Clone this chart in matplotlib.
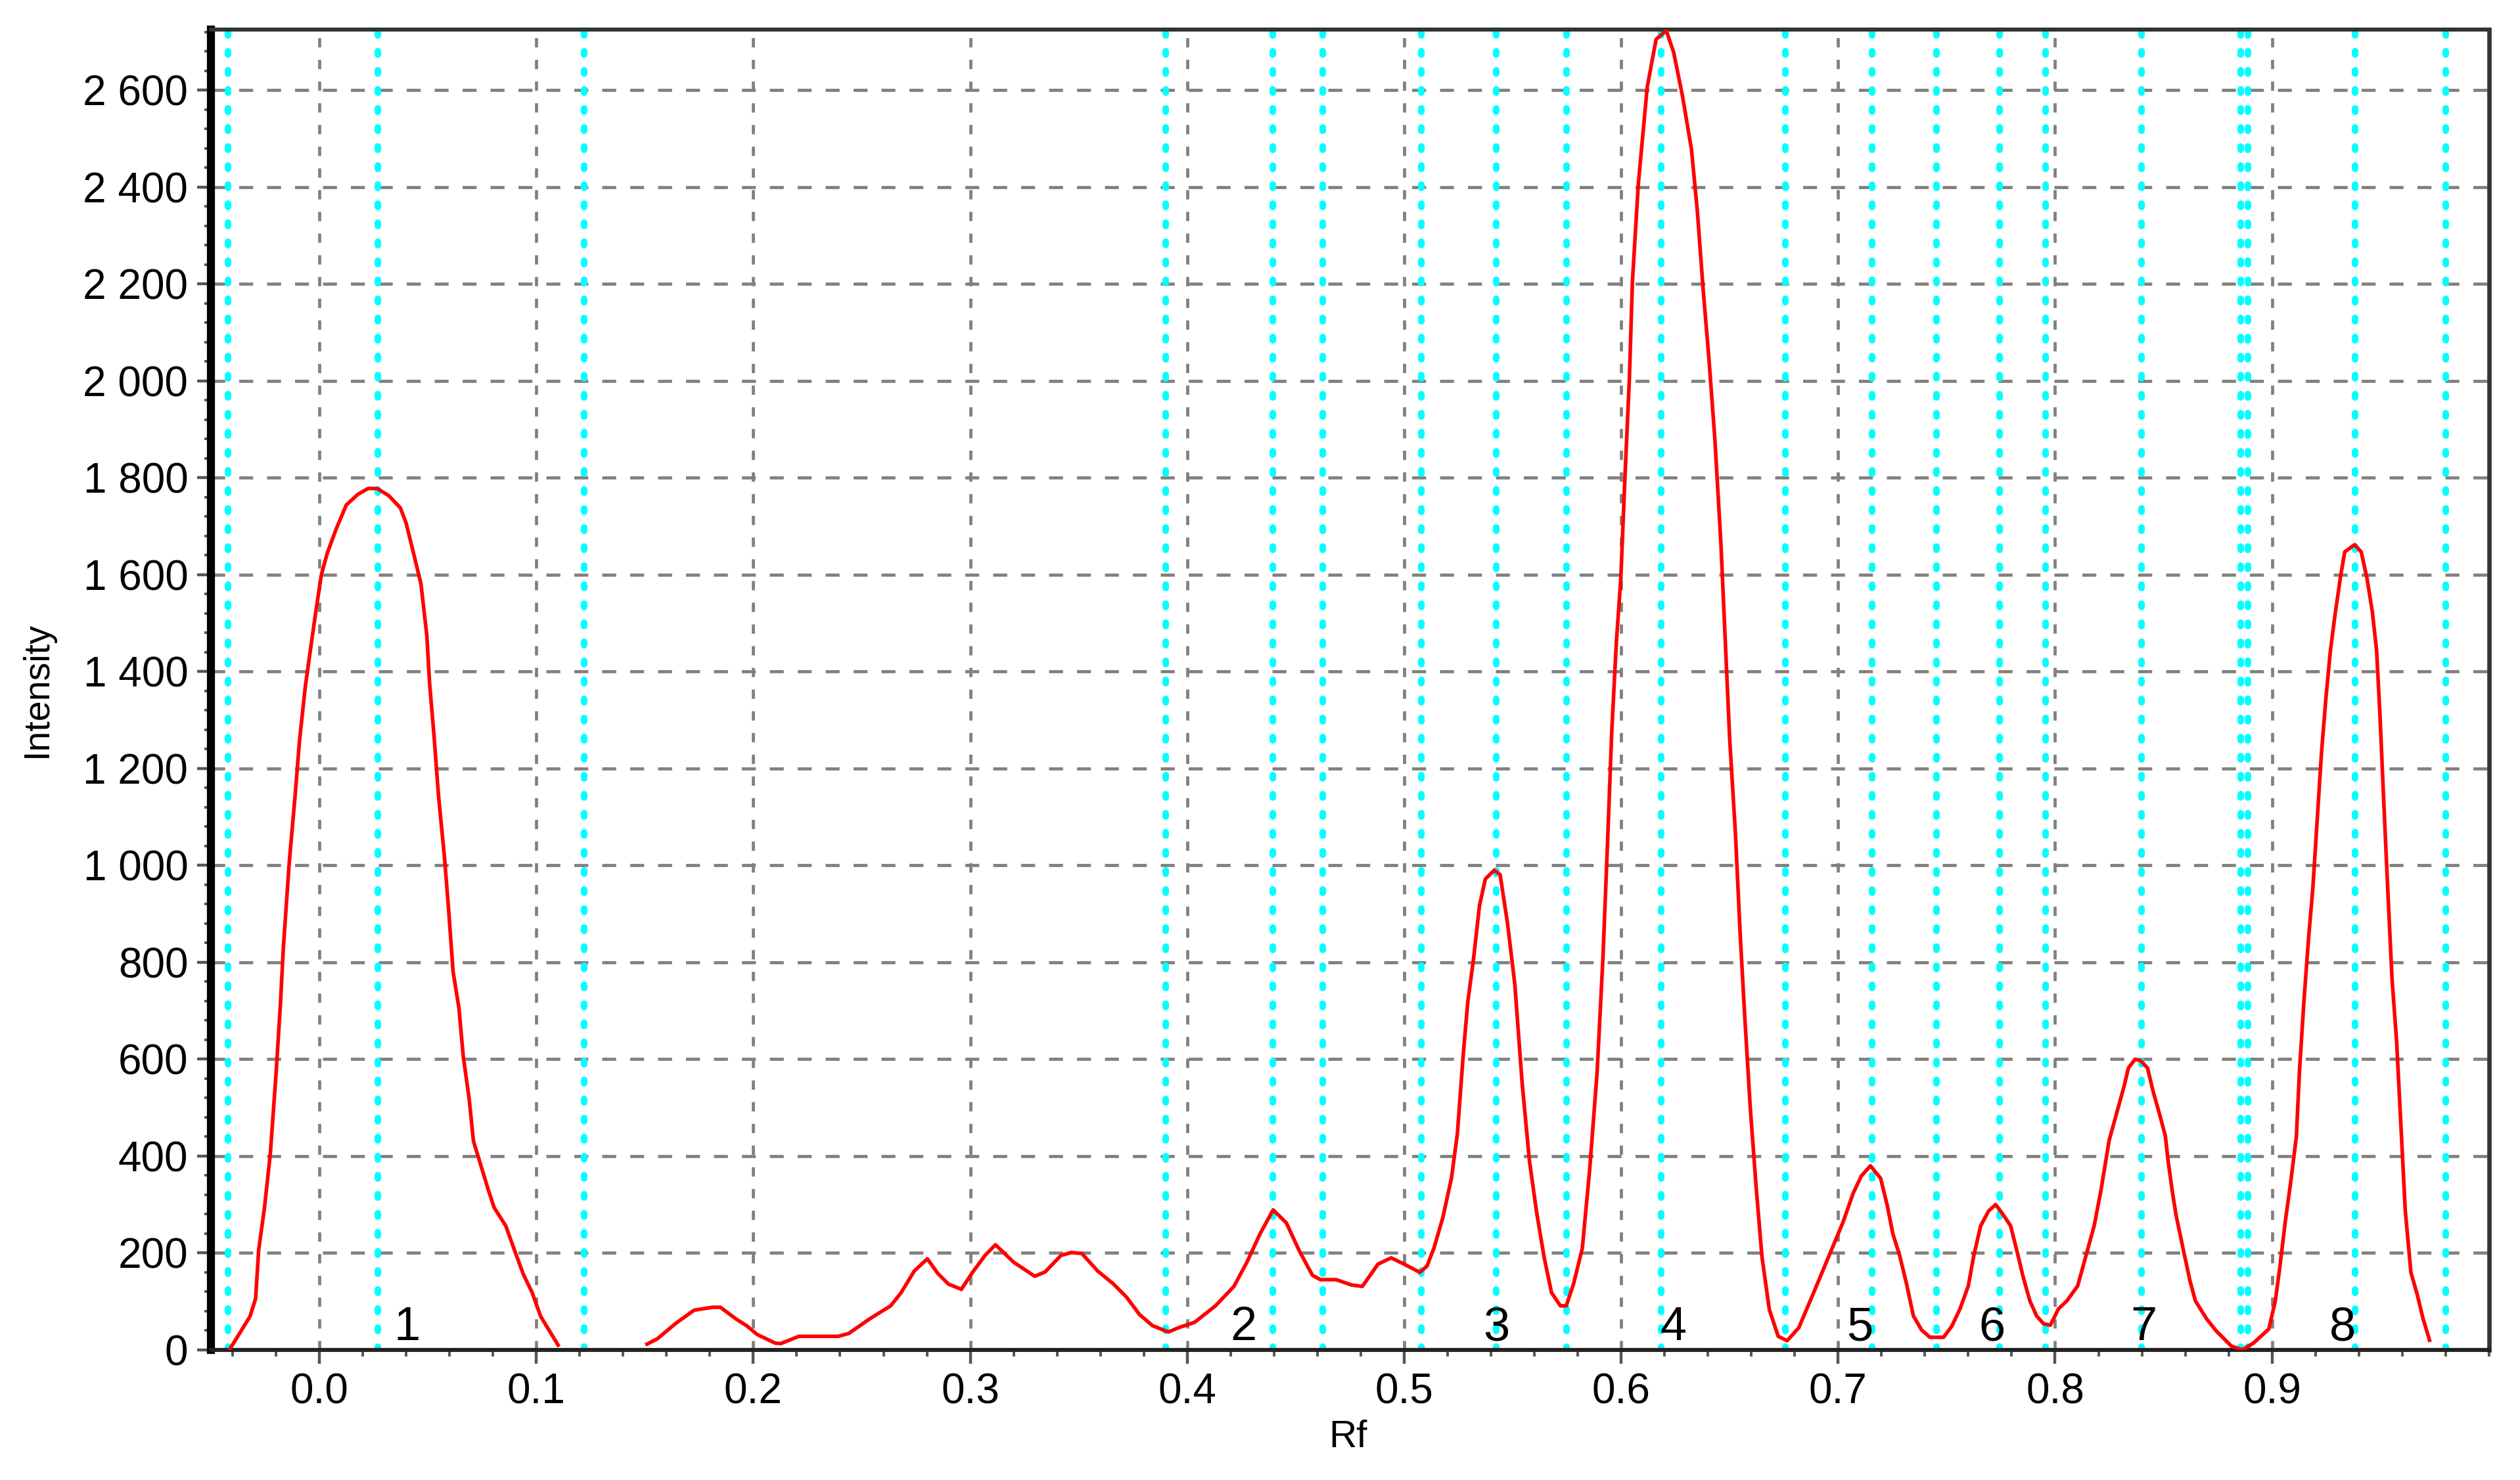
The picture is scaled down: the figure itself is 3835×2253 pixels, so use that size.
import numpy as np
import matplotlib
matplotlib.use('Agg')
import matplotlib.pyplot as plt
from matplotlib.ticker import MultipleLocator, FixedLocator

# densitogram trace (nan = part where no trace is drawn)
rf = [-0.0415, -0.032, -0.0294, -0.028, -0.0253, -0.0226, -0.020, -0.0179, -0.0166, -0.0139,
      -0.0112, -0.0092, -0.0065, -0.0038, -0.0018, 0.0009, 0.0036, 0.0077, 0.0124, 0.0178,
      0.0225, 0.0266, 0.032, 0.0373, 0.040, 0.0434, 0.0468, 0.0495, 0.0508, 0.0528,
      0.0549, 0.0576, 0.0596, 0.0616, 0.0643, 0.0663, 0.069, 0.071, 0.0744, 0.0778,
      0.0805, 0.0859, 0.0899, 0.094, 0.098, 0.102, 0.110, 0.130,
      0.151, 0.1558, 0.1643, 0.1727, 0.1812, 0.1848, 0.192, 0.1969, 0.2017, 0.2101,
      0.2126, 0.221, 0.2391, 0.244, 0.2536, 0.2633, 0.2681, 0.2742, 0.2802, 0.285,
      0.2899, 0.2959, 0.3007, 0.3068, 0.3116, 0.320, 0.3297, 0.3345, 0.3418, 0.3466,
      0.3514, 0.3587, 0.366, 0.372, 0.378, 0.384, 0.3913, 0.3961, 0.4034, 0.413,
      0.4215, 0.4275, 0.4336, 0.4396, 0.4457, 0.4517, 0.4577, 0.4614, 0.4686, 0.4758,
      0.4807, 0.4879, 0.494, 0.500, 0.5072, 0.5105, 0.5137, 0.5178, 0.5218, 0.5245,
      0.5272, 0.5293, 0.532, 0.5347, 0.5374, 0.5415, 0.5442, 0.5476, 0.551, 0.5543,
      0.5577, 0.5611, 0.5645, 0.5679, 0.572, 0.5747, 0.5781, 0.5821, 0.5855, 0.5889,
      0.5916, 0.5937, 0.5957, 0.5978, 0.5998, 0.6018, 0.6038, 0.6052, 0.6079, 0.612,
      0.6161, 0.6208, 0.6242, 0.6283, 0.6324, 0.6351, 0.6378, 0.6405, 0.6432, 0.646,
      0.648, 0.650, 0.6527, 0.6548, 0.6568, 0.6595, 0.6622, 0.6649, 0.6683, 0.6724,
      0.6765, 0.6819, 0.6887, 0.6955, 0.7023, 0.7069, 0.7107, 0.7149, 0.7196, 0.7227,
      0.7252, 0.7284, 0.7315, 0.7347, 0.7385, 0.7423, 0.7486, 0.7524, 0.7562, 0.760,
      0.7625, 0.7657, 0.7694, 0.7726, 0.7764, 0.7795, 0.7827, 0.7852, 0.7884, 0.7915,
      0.7947, 0.7978, 0.8016, 0.8054, 0.8104, 0.8142, 0.818, 0.8211, 0.823, 0.8249,
      0.8268, 0.8293, 0.8319, 0.8338, 0.8369, 0.8394, 0.8426, 0.8451, 0.8483, 0.8508,
      0.8521, 0.854, 0.8558, 0.859, 0.8622, 0.8647, 0.8697, 0.8741, 0.8812, 0.8863,
      0.8914, 0.8985, 0.9015, 0.9036, 0.9061, 0.9086, 0.9112, 0.9127, 0.9147, 0.9168,
      0.9188, 0.9208, 0.9228, 0.9249, 0.9269, 0.9289, 0.9315, 0.9335, 0.9381, 0.9411,
      0.9437, 0.9462, 0.9482, 0.9497, 0.9513, 0.9533, 0.9553, 0.9574, 0.9594, 0.9614,
      0.964, 0.967, 0.9695, 0.9726]
intensity = [0, 69, 106, 206, 294, 406, 569, 719, 831, 1006,
             1144, 1256, 1369, 1456, 1519, 1600, 1644, 1694, 1744, 1766,
             1778, 1778, 1763, 1738, 1706, 1644, 1581, 1475, 1375, 1269,
             1144, 1019, 906, 781, 706, 606, 519, 431, 381, 331,
             294, 256, 206, 156, 119, 69, 10, np.nan,
             12, 23, 55, 82, 88, 88, 64, 50, 32, 14,
             13, 28, 28, 34, 64, 91, 118, 163, 188, 158,
             136, 125, 158, 195, 217, 181, 152, 161, 195, 201,
             199, 163, 136, 109, 73, 50, 37, 46, 57, 91,
             131, 181, 240, 289, 262, 204, 154, 145, 145, 134,
             131, 177, 190, 177, 160, 173, 210, 273, 355, 446,
             609, 718, 809, 917, 972, 990, 981, 881, 754, 554,
             391, 282, 191, 118, 91, 91, 137, 210, 373, 572,
             809, 1045, 1280, 1462, 1589, 1807, 2006, 2206, 2406, 2606,
             2705, 2723, 2678, 2587, 2478, 2351, 2188, 2043, 1879, 1662,
             1462, 1262, 1063, 863, 700, 500, 337, 192, 83, 28,
             19, 46, 118, 191, 264, 323, 359, 380, 354, 297,
             240, 194, 137, 70, 41, 26, 26, 49, 85, 132,
             194, 256, 287, 300, 277, 256, 199, 152, 101, 70,
             54, 51, 85, 101, 132, 194, 256, 328, 380, 432,
             463, 504, 546, 582, 600, 597, 582, 535, 484, 442,
             390, 328, 277, 209, 142, 101, 65, 40, 8, 0,
             14, 43, 101, 171, 265, 346, 440, 580, 720, 848,
             953, 1093, 1233, 1349, 1443, 1513, 1594, 1647, 1662, 1647,
             1594, 1524, 1443, 1314, 1151, 953, 766, 638, 463, 288,
             160, 113, 66, 20]

# cyan dotted markers (track / peak boundaries)
marker_rf = [-0.042, 0.027, 0.122, 0.390, 0.4395, 0.4625, 0.508, 0.5425, 0.5747, 0.6185,
             0.6757, 0.7156, 0.7453, 0.7745, 0.7955, 0.8397, 0.8855, 0.8888, 0.9383, 0.9802]

# peak numbers
peak_names = ['1', '2', '3', '4', '5', '6', '7', '8']
peak_label_rf = [0.0405, 0.4260, 0.5425, 0.6240, 0.7100, 0.7710, 0.8410, 0.9325]

x_ticks = [0.0, 0.1, 0.2, 0.3, 0.4, 0.5, 0.6, 0.7, 0.8, 0.9]
y_ticks = list(range(0, 2601, 200))

plt.rcParams['font.family'] = ['Liberation Sans', 'DejaVu Sans']

fig = plt.figure(figsize=(19.175, 11.265), dpi=200)
ax = fig.add_axes([0.0837, 0.0879, 0.9040, 0.8921])

ax.set_xlim(-0.05, 1.0)
ax.set_ylim(0, 2725)

# grid
ax.xaxis.grid(True, which='major', color='#808080', linewidth=1.7, linestyle=(0, (3, 4)), zorder=1)
ax.yaxis.grid(True, which='major', color='#808080', linewidth=1.7, linestyle=(0, (4.5, 4.5)), zorder=1)
ax.set_axisbelow(True)

for x in marker_rf:
    ax.axvline(x, color='#00FFFF', linewidth=3.6, linestyle=(0, (0.5, 2.4)),
               dash_capstyle='round', zorder=2)

ax.plot(rf, intensity, color='#FF0000', linewidth=2.0, zorder=3)

for name, x in zip(peak_names, peak_label_rf):
    ax.text(x, 20, name, fontsize=26, ha='center', va='baseline', color='black', zorder=4)

ax.xaxis.set_major_locator(FixedLocator(x_ticks))
ax.xaxis.set_minor_locator(MultipleLocator(0.02))
ax.set_xticklabels(['%.1f' % v for v in x_ticks])
ax.yaxis.set_major_locator(FixedLocator(y_ticks))
ax.yaxis.set_minor_locator(MultipleLocator(40))
ax.set_yticklabels(['{:,}'.format(v).replace(',', ' ') for v in y_ticks])

ax.tick_params(axis='both', which='major', direction='out', length=7.5, width=1.6,
               color='#555555', labelsize=23, pad=5.0)
ax.tick_params(axis='both', which='minor', direction='out', length=3.5, width=1.4,
               color='#555555')

ax.spines['left'].set_linewidth(4.4)
ax.spines['left'].set_color('black')
ax.spines['bottom'].set_linewidth(2.2)
ax.spines['bottom'].set_color('#222222')
ax.spines['top'].set_linewidth(2.2)
ax.spines['top'].set_color('#333333')
ax.spines['right'].set_linewidth(2.4)
ax.spines['right'].set_color('#333333')

fig.text(0.0149, 0.534, 'Intensity', rotation=90, fontsize=20, ha='center', va='center')
fig.text(0.5348, 0.0289, 'Rf', fontsize=21, ha='center', va='center')

fig.savefig('out.png', dpi=200)
